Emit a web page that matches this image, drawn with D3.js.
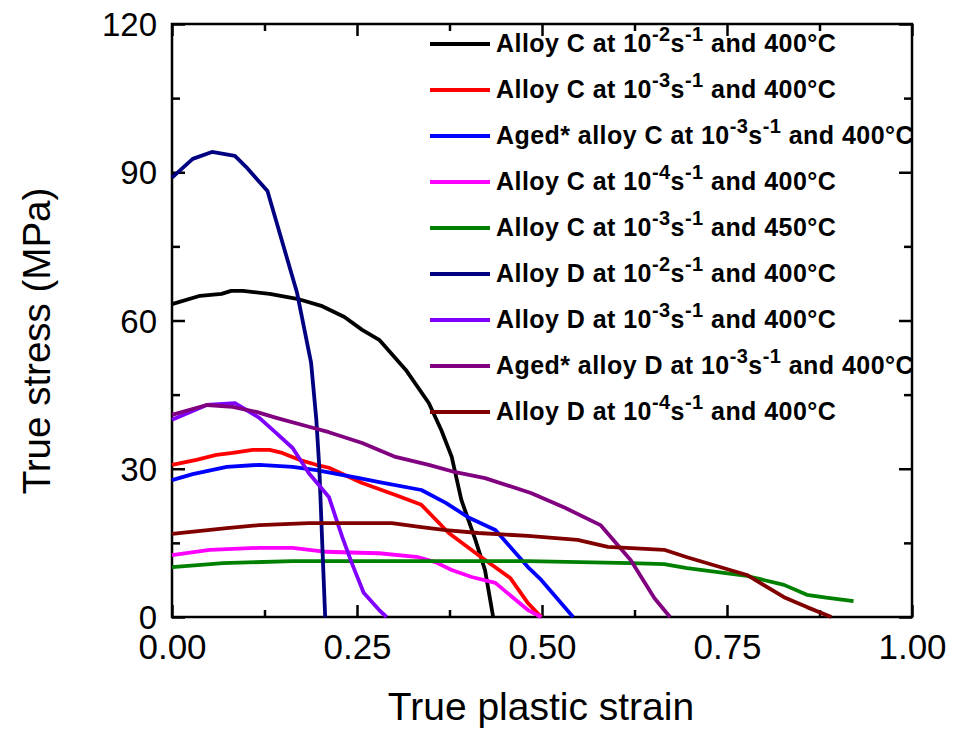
<!DOCTYPE html>
<html>
<head>
<meta charset="utf-8">
<script src="https://cdn.jsdelivr.net/npm/d3@7"></script>
<style>
  body { margin: 0; background: #fff; }
  text { font-family: "Liberation Sans", Arial, sans-serif; }
</style>
</head>
<body>
<svg id="flowChart" width="959" height="730"></svg>
<script>
// stress-strain curves, [true plastic strain, true stress MPa]
var alloyC_2 = [[0,63.3],[0.038,65.0],[0.067,65.4],[0.08,66.0],[0.096,66.0],[0.132,65.4],[0.169,64.4],[0.203,62.9],[0.233,60.7],[0.257,58.1],[0.28,56.1],[0.316,50.0],[0.347,43.3],[0.364,37.8],[0.378,32.4],[0.391,23.7],[0.41,15.6],[0.423,9.5],[0.434,0]];
var alloyC_3 = [[0,30.8],[0.033,31.8],[0.06,32.8],[0.082,33.2],[0.109,33.8],[0.132,33.8],[0.149,33.2],[0.172,31.8],[0.195,30.8],[0.212,30.2],[0.257,27.1],[0.302,24.7],[0.337,22.7],[0.374,17.0],[0.418,12.1],[0.457,7.9],[0.481,2.8],[0.499,0]];
var agedC_3 = [[0,27.7],[0.028,28.9],[0.074,30.4],[0.118,30.8],[0.163,30.4],[0.195,29.7],[0.253,28.1],[0.28,27.3],[0.337,25.7],[0.37,23.1],[0.40,20.2],[0.437,17.6],[0.481,10.1],[0.499,7.5],[0.542,0]];
var alloyC_4 = [[0,12.5],[0.051,13.6],[0.118,14.0],[0.163,14.0],[0.208,13.2],[0.253,13.0],[0.28,12.9],[0.333,12.1],[0.356,11.1],[0.378,9.5],[0.405,8.1],[0.437,6.9],[0.481,1.4],[0.499,0]];
var alloyC_3_450 = [[0,10.1],[0.069,10.9],[0.163,11.3],[0.253,11.3],[0.441,11.3],[0.481,11.3],[0.62,10.9],[0.665,10.7],[0.696,9.9],[0.777,8.3],[0.827,6.5],[0.858,4.5],[0.884,3.9],[0.921,3.2]];
var alloyD_2 = [[0,88.9],[0.028,92.7],[0.054,94.1],[0.085,93.3],[0.10,91.1],[0.129,86.2],[0.169,65.6],[0.188,51.4],[0.195,40.0],[0.199,30.4],[0.203,15.0],[0.207,0]];
var alloyD_3 = [[0,39.9],[0.047,42.9],[0.085,43.3],[0.118,40.3],[0.141,37.2],[0.163,34.2],[0.185,29.1],[0.212,24.3],[0.23,16.2],[0.243,10.9],[0.259,4.9],[0.28,1.4],[0.29,0]];
var agedD_3 = [[0,40.9],[0.047,42.9],[0.082,42.5],[0.114,41.5],[0.141,40.3],[0.185,38.5],[0.212,37.4],[0.257,35.2],[0.302,32.4],[0.347,30.8],[0.383,29.3],[0.423,28.1],[0.485,25.1],[0.531,22.1],[0.579,18.6],[0.62,11.5],[0.652,3.8],[0.673,0]];
var alloyD_4 = [[0,16.8],[0.074,18.0],[0.118,18.6],[0.185,19.0],[0.253,19.0],[0.297,19.0],[0.337,18.2],[0.37,17.6],[0.414,17.0],[0.481,16.4],[0.548,15.6],[0.589,14.2],[0.665,13.6],[0.696,12.1],[0.777,8.5],[0.827,4.0],[0.858,2.0],[0.891,0]];

var seriesData = [alloyC_2, alloyC_3, agedC_3, alloyC_4, alloyC_3_450, alloyD_2, alloyD_3, agedD_3, alloyD_4];
var seriesColors = ["#000000","#ff0000","#0000ff","#ff00ff","#008000","#000080","#8000ff","#800080","#800000"];
var legendNames = ["Alloy C at 10","Alloy C at 10","Aged* alloy C at 10","Alloy C at 10","Alloy C at 10","Alloy D at 10","Alloy D at 10","Aged* alloy D at 10","Alloy D at 10"];
var legendExps = ["-2","-3","-3","-4","-3","-2","-3","-3","-4"];
var legendTemps = ["400°C","400°C","400°C","400°C","450°C","400°C","400°C","400°C","400°C"];

var xTicks = [0, 0.25, 0.5, 0.75, 1.0];
var xMinor = [0.125, 0.375, 0.625, 0.875];
var yTicks = [0, 30, 60, 90, 120];
var yMinor = [15, 45, 75, 105];

class flowGraph {
  constructor() {
    this.margins = {left:172, right:47, top:24, bottom:113};
    this.width = 959 - this.margins.left - this.margins.right;
    this.height = 730 - this.margins.top - this.margins.bottom;
    this.svg = d3.select("#flowChart");
    this.canvas = this.svg.append("g")
      .attr("transform", "translate(" + this.margins.left + "," + this.margins.top + ")");
    this.x = d3.scaleLinear().domain([0, 1]).range([0, this.width]);
    this.y = d3.scaleLinear().domain([0, 120]).range([this.height, 0]);
  }

  drawAxes() {
    var plot = this;
    var fmt = d3.format(".2f");
    // ticks all point inward, labels only on bottom and left
    var axes = [
      {ax: d3.axisBottom(this.x).tickValues(xTicks).tickSize(-12).tickFormat(fmt), tr: "0," + this.height, lab: "x"},
      {ax: d3.axisBottom(this.x).tickValues(xMinor).tickSize(-7).tickFormat(""), tr: "0," + this.height},
      {ax: d3.axisTop(this.x).tickValues(xTicks).tickSize(-12).tickFormat(""), tr: "0,0"},
      {ax: d3.axisTop(this.x).tickValues(xMinor).tickSize(-7).tickFormat(""), tr: "0,0"},
      {ax: d3.axisLeft(this.y).tickValues(yTicks).tickSize(-13).tickFormat(d3.format("d")), tr: "0,0", lab: "y"},
      {ax: d3.axisLeft(this.y).tickValues(yMinor).tickSize(-8).tickFormat(""), tr: "0,0"},
      {ax: d3.axisRight(this.y).tickValues(yTicks).tickSize(-13).tickFormat(""), tr: this.width + ",0"},
      {ax: d3.axisRight(this.y).tickValues(yMinor).tickSize(-8).tickFormat(""), tr: this.width + ",0"}
    ];
    axes.forEach(function(a) {
      var g = plot.canvas.append("g").attr("transform", "translate(" + a.tr + ")").call(a.ax);
      g.select(".domain").remove();
      g.selectAll("line").attr("stroke", "#000").attr("stroke-width", 2.5);
      g.selectAll("text").attr("fill", "#000")
        .attr("font-family", "'Liberation Sans', Arial, sans-serif");
      if (a.lab == "x") {
        g.selectAll("text").attr("font-size", 35).attr("y", 17).attr("dy", "0.71em");
      } else if (a.lab == "y") {
        g.selectAll("text").attr("font-size", 33).attr("x", -15).attr("dy", "0.35em");
      }
    });

    this.canvas.append("rect")
      .attr("width", this.width).attr("height", this.height)
      .attr("fill", "none").attr("stroke", "#000").attr("stroke-width", 2.5);

    this.svg.append("text")
      .attr("x", 541).attr("y", 720)
      .attr("text-anchor", "middle").attr("font-size", 39)
      .text("True plastic strain");
    this.svg.append("text")
      .attr("transform", "translate(50,341) rotate(-90)")
      .attr("text-anchor", "middle").attr("font-size", 38.5)
      .text("True stress (MPa)");
  }

  drawLines() {
    var plot = this;
    var line = d3.line()
      .x(function(d){ return plot.x(d[0]); })
      .y(function(d){ return plot.y(d[1]); });
    this.canvas.selectAll(".curve").data(seriesData).enter()
      .append("path")
      .attr("class", "curve")
      .attr("d", line)
      .attr("fill", "none")
      .style("stroke", function(d, i){ return seriesColors[i]; })
      .style("stroke-width", 3.8)
      .style("stroke-linejoin", "round");
  }

  drawLegend() {
    var rows = this.svg.selectAll(".legendRow").data(legendNames).enter()
      .append("g")
      .attr("class", "legendRow")
      .attr("transform", function(d, i){ return "translate(430," + (44 + 46 * i) + ")"; });
    rows.append("line")
      .attr("x1", 0).attr("x2", 60)
      .style("stroke", function(d, i){ return seriesColors[i]; })
      .style("stroke-width", 3.8);
    var txt = rows.append("text")
      .attr("x", 66).attr("y", 8)
      .attr("font-size", 25).attr("font-weight", "bold")
      .style("letter-spacing", "0.45px");
    txt.append("tspan").text(function(d){ return d; });
    txt.append("tspan").attr("font-size", 20).attr("dy", -11)
      .text(function(d, i){ return legendExps[i]; });
    txt.append("tspan").attr("dy", 11).text("s");
    txt.append("tspan").attr("font-size", 20).attr("dy", -11).text("-1");
    txt.append("tspan").attr("dy", 11)
      .text(function(d, i){ return " and " + legendTemps[i]; });
  }
}

var chart = new flowGraph();
chart.drawAxes();
chart.drawLines();
chart.drawLegend();
</script>
</body>
</html>
